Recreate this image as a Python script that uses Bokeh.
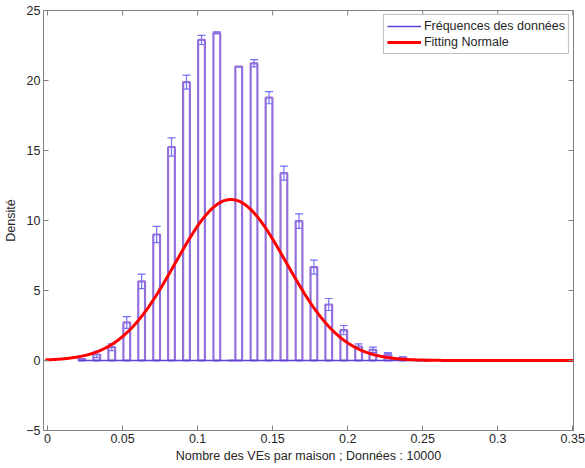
import numpy as np
from bokeh.plotting import figure
from bokeh.models import (Range1d, FixedTicker, Whisker, TeeHead,
                          ColumnDataSource, Legend, LegendItem)
from bokeh.embed import file_html
from bokeh.resources import INLINE

# ---- data ----
bin_x = [0.0229, 0.0328, 0.0428, 0.0528, 0.0627, 0.0727, 0.0826, 0.0926, 0.1026, 0.1128,
         0.1225, 0.1274, 0.1376, 0.1476, 0.1575, 0.1676, 0.1775, 0.1874, 0.1974, 0.2073,
         0.2168, 0.2268, 0.2368, 0.2474, 0.2524]
density = [0.10, 0.43, 0.95, 2.72, 5.65, 9.00, 15.25, 19.89, 22.90, 23.40,
           0.00, 20.99, 21.23, 18.77, 13.38, 9.96, 6.67, 4.00, 2.17, 1.00,
           0.76, 0.45, 0.21, 0.00, 0.05]
err = [0.04, 0.23, 0.24, 0.42, 0.52, 0.58, 0.65, 0.50, 0.33, 0.07,
       0.00, 0.00, 0.26, 0.43, 0.50, 0.52, 0.50, 0.43, 0.33, 0.19,
       0.20, 0.12, 0.05, 0.00, 0.00]

# fitted normal curve parameters
fit_mu = 0.1222
fit_sigma = 0.037
fit_peak = 11.5

x_ticks = [0, 0.05, 0.1, 0.15, 0.2, 0.25, 0.3, 0.35]
x_tick_labels = ["0", "0.05", "0.1", "0.15", "0.2", "0.25", "0.3", "0.35"]
y_ticks = [-5, 0, 5, 10, 15, 20, 25]

legend_labels = ["Fréquences des données", "Fitting Normale"]
x_label = "Nombre des VEs par maison ; Données : 10000"
y_label = "Densité"

# ---- styling ----
FONT = "Liberation Sans"
FS = "12.5px"
AX = "#808080"
TXT = "#262626"
BAR = "#9370DB"
ERRC = "#5a5aff"
BASE = "#6040d8"
RED = "#ff0000"

x0, x1 = -0.0027, 0.3505
y0, y1 = -5, 25
p = figure(width=585, height=468, output_backend="svg", toolbar_location=None,
           x_range=Range1d(x0, x1), y_range=Range1d(y0, y1),
           min_border_left=43, min_border_right=12, min_border_top=10, min_border_bottom=38)
p.background_fill_color = "white"
p.border_fill_color = "white"
p.outline_line_color = AX
p.outline_line_width = 1
p.xgrid.visible = False
p.ygrid.visible = False

src = ColumnDataSource(dict(x=bin_x, top=density,
                            upper=[d + e for d, e in zip(density, err)],
                            lower=[d - e for d, e in zip(density, err)]))

p.vbar(x="x", top="top", bottom=0, width=0.0045, source=src,
       fill_alpha=0, line_color=BAR, line_width=2.2)

wh = Whisker(source=src, base="x", upper="upper", lower="lower",
             line_color=ERRC, line_width=1.2, line_alpha=0.85,
             upper_head=TeeHead(size=8, line_color=ERRC, line_width=1.2, line_alpha=0.85),
             lower_head=TeeHead(size=8, line_color=ERRC, line_width=1.2, line_alpha=0.85))
p.add_layout(wh)

half = 0.0045 / 2
base_r = p.segment(x0=[bin_x[0] - half], y0=[0], x1=[bin_x[-1] + half], y1=[0],
                   line_color=BASE, line_width=1.6)

cx = np.linspace(x0 + 0.0012, x1, 600)
cy = fit_peak * np.exp(-0.5 * ((cx - fit_mu) / fit_sigma) ** 2)
curve_r = p.line(cx, cy, line_color=RED, line_width=3)

# inward ticks on the top and right edges of the box (clipped to the frame)
p.scatter(x=x_ticks, y=[y1] * len(x_ticks), marker="dash", angle=np.pi / 2,
          size=10, line_color=AX, line_width=1)
p.scatter(x=[x1] * len(y_ticks), y=y_ticks, marker="dash",
          size=10, line_color=AX, line_width=1)

def style_axis(ax):
    ax.axis_line_color = AX
    ax.major_tick_line_color = AX
    ax.major_tick_in = 5
    ax.major_tick_out = 0
    ax.minor_tick_line_color = None
    ax.major_label_text_font = FONT
    ax.major_label_text_color = TXT
    ax.major_label_text_font_size = FS
    ax.axis_label_text_font = FONT
    ax.axis_label_text_color = TXT
    ax.axis_label_text_font_style = "normal"
    ax.axis_label_text_font_size = FS

xb = p.xaxis[0]
xb.ticker = FixedTicker(ticks=x_ticks)
xb.major_label_overrides = {t: l for t, l in zip(x_ticks, x_tick_labels)}
xb.axis_label = x_label
style_axis(xb)
xb.major_label_standoff = 3
xb.axis_label_standoff = 3

yl = p.yaxis[0]
yl.ticker = FixedTicker(ticks=y_ticks)
yl.axis_label = y_label
style_axis(yl)
yl.major_label_standoff = 3
yl.axis_label_standoff = 5

legend = Legend(items=[LegendItem(label=legend_labels[0], renderers=[base_r]),
                       LegendItem(label=legend_labels[1], renderers=[curve_r])],
                location="top_right")
legend.label_text_font = FONT
legend.label_text_font_size = "12.5px"
legend.label_text_color = TXT
legend.label_height = 16
legend.glyph_height = 16
legend.glyph_width = 34
legend.label_standoff = 3
legend.spacing = 0
legend.padding = 3
legend.margin = 4
legend.border_line_color = AX
legend.border_line_width = 1
legend.background_fill_color = "white"
legend.background_fill_alpha = 1
p.add_layout(legend)

open("out.html", "w").write(file_html(p, INLINE))
